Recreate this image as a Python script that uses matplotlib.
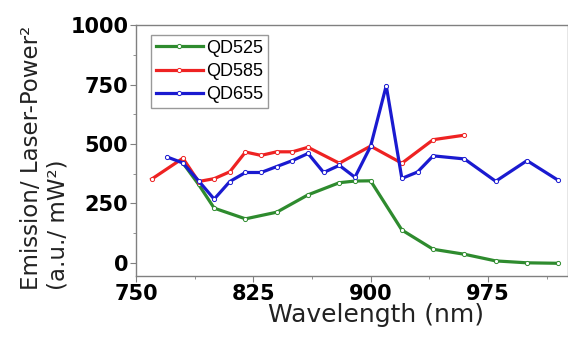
import matplotlib.pyplot as plt
from matplotlib.ticker import MultipleLocator

# wavelength (nm) and emission / laser-power^2 values
wl_525 = [780, 790, 800, 820, 840, 860, 880, 890, 900, 920, 940, 960, 980, 1000, 1020]
qd525 = [420, 330, 230, 185, 213, 286, 337, 344, 345, 138, 57, 36, 8, 0, -2]

wl_585 = [760, 780, 790, 800, 810, 820, 830, 840, 850, 860, 880, 900, 920, 940, 960]
qd585 = [352, 440, 342, 354, 383, 466, 452, 467, 467, 486, 419, 491, 419, 518, 537]

wl_655 = [770, 780, 790, 800, 810, 820, 830, 840, 850, 860, 870, 880, 890, 900,
          910, 920, 930, 940, 960, 980, 1000, 1020]
qd655 = [445, 420, 345, 268, 342, 380, 380, 405, 430, 460, 380, 410, 360, 490,
         745, 355, 382, 450, 437, 343, 430, 347]

fig = plt.figure(figsize=(5.68, 3.44), dpi=100)
ax = fig.add_axes([0.2394, 0.198, 0.76, 0.729])

style = dict(lw=2.3, marker="o", ms=3, mfc="white", mew=0.7)
ax.plot(wl_525, qd525, color="#2e8b2e", label="QD525", **style)
ax.plot(wl_585, qd585, color="#ee2222", label="QD585", **style)
ax.plot(wl_655, qd655, color="#1a1ad0", label="QD655", **style)

ax.set_xlim(750, 1026)
ax.set_ylim(-55, 1000)
ax.xaxis.set_major_locator(MultipleLocator(75))
ax.xaxis.set_minor_locator(MultipleLocator(37.5))
ax.yaxis.set_major_locator(MultipleLocator(250))
ax.yaxis.set_minor_locator(MultipleLocator(125))

for s in ax.spines.values():
    s.set_color("#808080")
    s.set_linewidth(1.0)
ax.tick_params(which="both", direction="out", color="#808080")
ax.tick_params(which="major", length=4, labelsize=15, pad=1.5)
ax.tick_params(which="minor", length=2)
for lab in ax.get_xticklabels() + ax.get_yticklabels():
    lab.set_fontfamily("DejaVu Sans")
    lab.set_fontweight("bold")

ax.set_xlabel("Wavelength (nm)", fontsize=18, fontfamily="DejaVu Sans",
              color="#222222")
ax.xaxis.set_label_coords(0.555, -0.108)
ax.set_ylabel("Emission/ Laser-Power²\n(a.u./ mW²)", fontsize=16.5,
              fontfamily="DejaVu Sans", color="#222222", linespacing=1.15,
              multialignment="left")
ax.yaxis.set_label_coords(-0.155, 0.47)

leg = ax.legend(loc="upper left", bbox_to_anchor=(0.035, 0.96), fancybox=False,
                edgecolor="#808080", handlelength=2.6, handletextpad=0.2,
                borderpad=0.25, labelspacing=0.35, borderaxespad=0,
                prop={"family": "Liberation Sans", "size": 13})
leg.get_frame().set_linewidth(1.0)

fig.savefig("out.png", dpi=100)
